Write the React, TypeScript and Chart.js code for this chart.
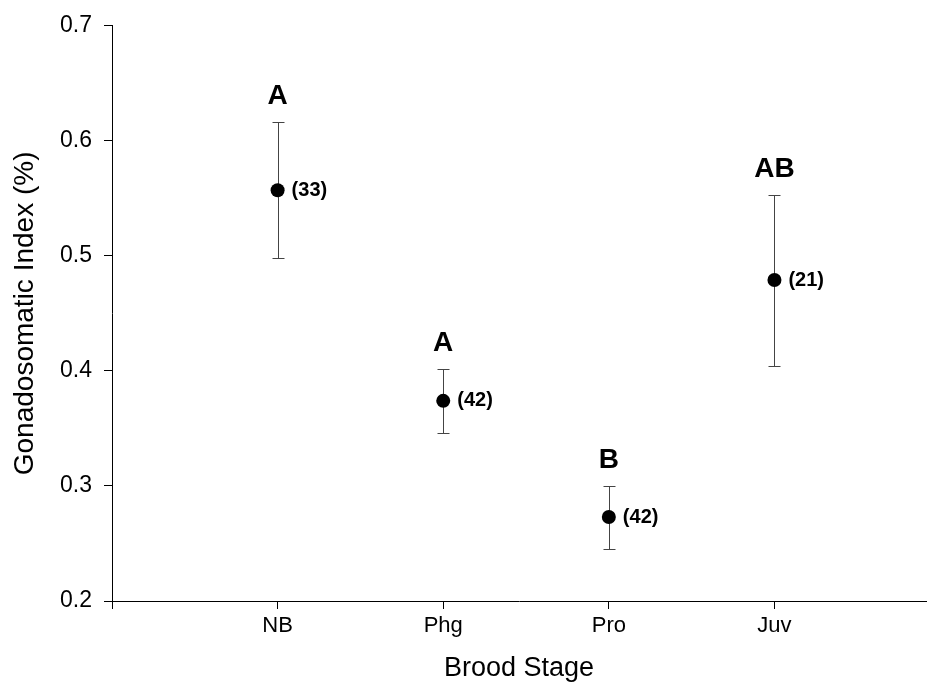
import { useEffect, useRef } from 'react';
import { Chart, registerables } from 'chart.js';

Chart.register(...registerables);

const categories = ['NB', 'Phg', 'Pro', 'Juv'];
const means = [0.557, 0.374, 0.273, 0.479];
const upper = [0.616, 0.402, 0.3, 0.553];
const lower = [0.498, 0.346, 0.245, 0.404];
const groupLetters = ['A', 'A', 'B', 'AB'];
const sampleSizes = ['(33)', '(42)', '(42)', '(21)'];
const yTickValues = [0.2, 0.3, 0.4, 0.5, 0.6, 0.7];
const xTickValues = [0, 1, 2, 3, 4];

const FONT = '"Liberation Sans", Arial, sans-serif';

export default function App() {
  const ref = useRef<HTMLCanvasElement>(null);

  useEffect(() => {
    if (!ref.current) return;
    const annot = {
      id: 'errAnnot',
      beforeDatasetsDraw(chart: any) {
        const { ctx } = chart;
        const xs = chart.scales.x;
        const ys = chart.scales.y;
        ctx.save();
        ctx.strokeStyle = '#444';
        ctx.lineWidth = 1;
        categories.forEach((_, i) => {
          const x = Math.round(xs.getPixelForValue(i + 1)) + 0.5;
          const yt = Math.round(ys.getPixelForValue(upper[i])) + 0.5;
          const yb = Math.round(ys.getPixelForValue(lower[i])) + 0.5;
          ctx.beginPath();
          ctx.moveTo(x, yt);
          ctx.lineTo(x, yb);
          ctx.moveTo(x - 6, yt);
          ctx.lineTo(x + 6, yt);
          ctx.moveTo(x - 6, yb);
          ctx.lineTo(x + 6, yb);
          ctx.stroke();
        });
        ctx.restore();
      },
      afterDatasetsDraw(chart: any) {
        const { ctx } = chart;
        const xs = chart.scales.x;
        const ys = chart.scales.y;
        ctx.save();
        ctx.fillStyle = '#000';
        categories.forEach((_, i) => {
          const x = xs.getPixelForValue(i + 1);
          const yt = ys.getPixelForValue(upper[i]);
          const ym = ys.getPixelForValue(means[i]);
          ctx.font = `bold 28px ${FONT}`;
          ctx.textAlign = 'center';
          ctx.textBaseline = 'alphabetic';
          ctx.fillText(groupLetters[i], x, yt - 18);
          ctx.font = `bold 20px ${FONT}`;
          ctx.textAlign = 'left';
          ctx.textBaseline = 'middle';
          ctx.fillText(sampleSizes[i], x + 14, ym);
        });
        ctx.restore();
      },
    };

    const chart = new Chart(ref.current, {
      type: 'scatter',
      data: {
        datasets: [
          {
            data: categories.map((_, i) => ({ x: i + 1, y: means[i] })),
            pointRadius: 7,
            pointHoverRadius: 7,
            backgroundColor: '#000',
            borderColor: '#000',
            borderWidth: 0,
          },
        ],
      },
      options: {
        responsive: false,
        animation: false,
        layout: { autoPadding: false, padding: { top: 23, left: 0, right: 1, bottom: 0 } },
        plugins: { legend: { display: false }, tooltip: { enabled: false } },
        scales: {
          x: {
            type: 'linear',
            min: 0,
            max: 4.915,
            afterBuildTicks: (s: any) => {
              s.ticks = xTickValues.map((v) => ({ value: v }));
            },
            afterFit: (s: any) => {
              s.height = 84;
              s.paddingRight = 0;
              s.paddingLeft = 0;
            },
            ticks: {
              autoSkip: false,
              maxRotation: 0,
              padding: 4,
              color: '#000',
              font: { family: FONT, size: 22 },
              callback: (v: any) => categories[Number(v) - 1] ?? '',
            },
            grid: { drawOnChartArea: false, drawTicks: true, tickLength: 8, color: '#000' },
            border: { color: '#000', width: 1 },
            title: {
              display: true,
              text: 'Brood Stage',
              color: '#000',
              font: { family: FONT, size: 27, lineHeight: 1.2 },
              padding: { top: 0, bottom: 0 },
            },
          },
          y: {
            type: 'linear',
            min: 0.2,
            max: 0.7,
            afterBuildTicks: (s: any) => {
              s.ticks = yTickValues.map((v) => ({ value: v }));
            },
            afterFit: (s: any) => {
              s.width = 112;
            },
            ticks: {
              padding: 12,
              color: '#000',
              font: { family: FONT, size: 23 },
              callback: (v: any) => Number(v).toFixed(1),
            },
            grid: { drawOnChartArea: false, drawTicks: true, tickLength: 8, color: '#000' },
            border: { color: '#000', width: 1 },
            title: {
              display: true,
              text: 'Gonadosomatic Index (%)',
              color: '#000',
              font: { family: FONT, size: 28, lineHeight: 1.2 },
              padding: { top: 8, bottom: 0 },
            },
          },
        },
      },
      plugins: [annot],
    });
    return () => chart.destroy();
  }, []);

  return (
    <div style={{ position: 'fixed', left: 0, top: 0, width: 927, height: 685, background: '#fff' }}>
      <canvas ref={ref} width={927} height={685} style={{ display: 'block' }} />
    </div>
  );
}
